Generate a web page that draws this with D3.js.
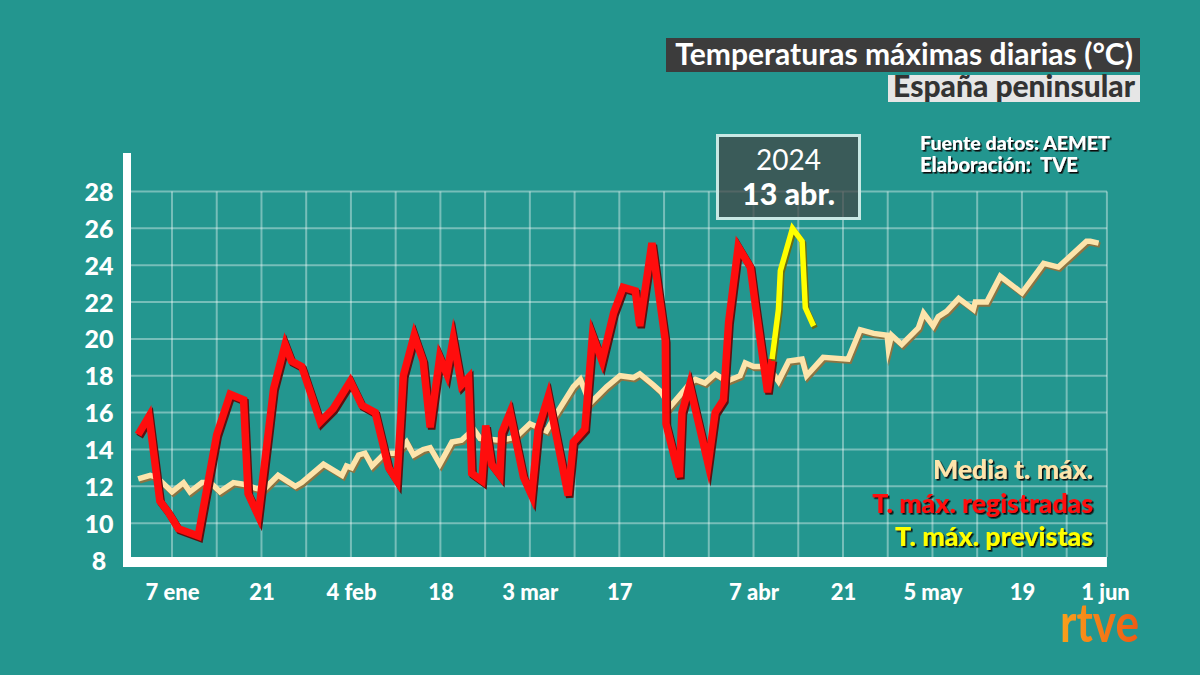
<!DOCTYPE html>
<html>
<head>
<meta charset="utf-8">
<script src="https://cdn.jsdelivr.net/npm/d3@7"></script>
<style>
  html, body { margin: 0; padding: 0; background: #23968f; }
  svg { display: block; font-family: Lato, "Noto Sans", sans-serif; }
</style>
</head>
<body>
<div id="chart"></div>
<script>
var svgWidth = 1200;
var svgHeight = 675;

// días contados desde el 1 de enero de 2024 (0 = 1 ene)
var mediaDias = [0.7, 2.6, 3.6, 6.0, 7.8, 8.8, 10.7, 12.0, 13.5, 15.6, 17.4, 19.0, 20.3, 22.6, 25.3, 26.3, 29.7, 32.6, 33.3, 34.1,
  35.2, 36.2, 37.3, 39.3, 41.2, 42.7, 43.8, 45.3, 46.4, 47.9, 49.8, 51.3, 53.2, 54.2, 57.3, 58.9, 59.9, 62.0, 64.6, 65.9,
  68.8, 69.9, 71.4, 74.0, 76.1, 78.2, 79.2, 81.3, 82.6, 83.9, 87.1, 87.9, 89.4, 91.0, 92.8, 94.9, 95.7, 97.0, 99.3, 100.9,
  102.5, 104.6, 105.3, 107.9, 111.8, 113.7, 115.8, 117.9, 118.1, 118.6, 120.2, 122.8, 123.6, 125.1, 125.9, 127.2, 129.1, 131.4, 131.7, 133.5,
  135.6, 139.0, 142.4, 144.7, 149.1, 149.7, 151.0];
var mediaVals = [12.4, 12.6, 12.5, 11.7, 12.2, 11.7, 12.2, 12.2, 11.7, 12.2, 12.1, 11.9, 11.8, 12.6, 12.0, 12.2, 13.2, 12.6, 13.1, 13.0,
  13.7, 13.8, 13.1, 13.8, 13.8, 14.4, 13.7, 14.0, 14.1, 13.2, 14.4, 14.5, 15.1, 14.6, 14.5, 14.6, 14.7, 15.4, 15.0, 15.8,
  17.4, 17.8, 16.5, 17.4, 18.0, 17.9, 18.1, 17.5, 17.1, 16.3, 17.6, 17.8, 17.6, 18.1, 17.7, 18.0, 18.7, 18.5, 18.5, 17.7,
  18.8, 18.9, 18.0, 19.0, 18.9, 20.5, 20.3, 20.2, 19.5, 20.2, 19.7, 20.6, 21.4, 20.7, 21.2, 21.5, 22.2, 21.6, 22.0, 22.0,
  23.4, 22.5, 24.1, 23.9, 25.3, 25.3, 25.2];

var regDias = [0.7, 2.4, 4.1, 5.4, 7.0, 10.1, 13.0, 15.1, 17.2, 17.9, 19.5, 21.9, 23.7, 24.7, 26.3, 29.2, 31.2, 33.9, 35.7, 37.8,
  39.9, 41.2, 42.2, 43.9, 45.3, 46.4, 47.9, 49.0, 50.0, 51.3, 52.4, 52.9, 54.5, 55.1, 56.0, 57.3, 57.6, 58.9, 61.0, 62.3,
  63.3, 64.9, 68.0, 68.8, 70.6, 71.8, 73.3, 75.1, 76.6, 78.5, 79.2, 81.1, 83.2, 83.3, 85.4, 85.8, 87.0, 89.9, 91.0, 92.3,
  93.1, 94.6, 96.5, 97.3, 99.2, 99.9];
var regVals = [14.8, 15.8, 11.2, 10.6, 9.7, 9.3, 14.8, 17.0, 16.7, 11.6, 10.4, 17.3, 19.7, 18.8, 18.5, 15.5, 16.2, 17.7, 16.4, 16.0,
  13.0, 12.3, 18.0, 20.2, 18.8, 15.2, 19.0, 18.1, 20.0, 17.5, 17.9, 12.7, 12.3, 15.3, 13.2, 12.6, 14.9, 16.0, 12.5, 11.5,
  15.1, 16.9, 11.5, 14.4, 15.1, 20.2, 18.8, 21.4, 22.8, 22.6, 20.7, 25.2, 19.9, 15.4, 12.5, 16.0, 17.5, 13.2, 16.0, 16.7,
  20.9, 25.0, 23.9, 21.8, 17.1, 18.9];

var prevDias = [99.9, 100.9, 101.2, 103.1, 104.6, 105.1, 106.4];
var prevVals = [18.9, 21.6, 23.7, 26.0, 25.3, 21.7, 20.7];

var yTicks = [8, 10, 12, 14, 16, 18, 20, 22, 24, 26, 28];
var xTickDias = [6, 20, 34, 48, 62, 76, 97, 111, 125, 139, 152];
var xTickLabels = ["7 ene", "21", "4 feb", "18", "3 mar", "17", "7 abr", "21", "5 may", "19", "1 jun"];
var gridDias = d3.range(6, 147, 7);   // una línea por semana
var gridFinDia = 152.3;

var svg = d3.select("#chart")
  .append("svg")
  .attr("width", svgWidth)
  .attr("height", svgHeight);

var defs = svg.append("defs");
defs.append("filter").attr("id", "sombra")
  .attr("x", "-5%").attr("y", "-20%").attr("width", "115%").attr("height", "150%")
  .append("feDropShadow")
  .attr("dx", 1.6).attr("dy", 1.6).attr("stdDeviation", 0.3)
  .attr("flood-color", "#111").attr("flood-opacity", 1);

svg.append("rect").attr("width", svgWidth).attr("height", svgHeight).attr("fill", "#23968f");

var xScale = d3.scaleLinear().domain([6, 152]).range([172, 1105]);
var yScale = d3.scaleLinear().domain([8, 28]).range([560, 191.5]);

// Rejilla
var grid = svg.append("g").attr("stroke", "rgba(255,255,255,0.38)").attr("stroke-width", 2);
grid.selectAll("line.h")
  .data(yTicks.slice(1))
  .enter().append("line")
  .attr("x1", 131).attr("x2", xScale(gridFinDia))
  .attr("y1", d => yScale(d)).attr("y2", d => yScale(d));
grid.selectAll("line.v")
  .data(gridDias.concat([gridFinDia]))
  .enter().append("line")
  .attr("x1", d => xScale(d)).attr("x2", d => xScale(d))
  .attr("y1", yScale(28)).attr("y2", 557);

// Ejes blancos gruesos
svg.append("rect").attr("x", 123).attr("y", 153).attr("width", 8).attr("height", 414).attr("fill", "#fff");
svg.append("rect").attr("x", 123).attr("y", 557).attr("width", xScale(gridFinDia) - 123).attr("height", 10).attr("fill", "#fff");

// Etiquetas de los ejes
var leftAxis = d3.axisLeft(yScale).tickValues(yTicks).tickSize(0).tickPadding(0);
var gy = svg.append("g").attr("transform", "translate(99,0)").call(leftAxis);
gy.select(".domain").remove();
gy.selectAll("text")
  .attr("text-anchor", "middle").attr("x", 0).attr("dy", "0.36em")
  .style("font-family", "Lato, sans-serif").style("font-weight", "900")
  .style("font-size", "25px").attr("fill", "#fff");

var bottomAxis = d3.axisBottom(xScale).tickValues(xTickDias).tickSize(0).tickPadding(0)
  .tickFormat((d, i) => xTickLabels[i]);
var gx = svg.append("g").attr("transform", "translate(0,600)").call(bottomAxis);
gx.select(".domain").remove();
gx.selectAll("text")
  .attr("y", 0).attr("dy", 0)
  .style("font-family", "Lato, sans-serif").style("font-weight", "900")
  .style("font-size", "22px").attr("fill", "#fff");

// Líneas
var line = d3.line().x(d => xScale(d[0])).y(d => yScale(d[1]));
var media = mediaDias.map((d, i) => [d, mediaVals[i]]);
var reg = regDias.map((d, i) => [d, regVals[i]]);
var prev = prevDias.map((d, i) => [d, prevVals[i]]);

function drawLine(data, color, shadow, w) {
  svg.append("path").datum(data)
    .attr("d", line).attr("transform", "translate(1.5,2)")
    .attr("fill", "none").attr("stroke", shadow).attr("stroke-width", w)
    .attr("stroke-linejoin", "miter").attr("stroke-miterlimit", 6);
  svg.append("path").datum(data)
    .attr("d", line)
    .attr("fill", "none").attr("stroke", color).attr("stroke-width", w)
    .attr("stroke-linejoin", "miter").attr("stroke-miterlimit", 6);
}
drawLine(media, "#fde4ab", "#8c7442", 5.5);
drawLine(reg, "#ff0d0d", "#5e1010", 7.5);
drawLine(prev, "#ffff00", "#6d6d10", 5.5);

// Ajusta el tamaño de letra para ocupar un ancho dado
function fit(sel, w) {
  var l = sel.node().getComputedTextLength();
  var fs = parseFloat(sel.style("font-size"));
  sel.style("font-size", (fs * w / l) + "px");
  return sel;
}

// Título
svg.append("rect").attr("x", 666).attr("y", 38).attr("width", 474).attr("height", 34).attr("fill", "#3c3c3c");
fit(svg.append("text").attr("x", 1133).attr("y", 65).attr("text-anchor", "end")
  .style("font-size", "28px").style("font-weight", "700").attr("fill", "#fff")
  .text("Temperaturas máximas diarias (°C)"), 458);

svg.append("rect").attr("x", 888).attr("y", 75).attr("width", 252).attr("height", 27).attr("fill", "#e6e6e6");
fit(svg.append("text").attr("x", 1135).attr("y", 96.5).attr("text-anchor", "end")
  .style("font-size", "26px").style("font-weight", "900").attr("fill", "#333")
  .text("España peninsular"), 242);

// Textos con sombra
function shadowText(x, y, txt, color, size, w, anchor) {
  var t = svg.append("text").attr("x", x).attr("y", y).attr("text-anchor", anchor)
    .style("font-size", size + "px").style("font-weight", "900").style("white-space", "pre")
    .attr("fill", color).attr("filter", "url(#sombra)").text(txt);
  if (w) fit(t, w);
}
shadowText(920, 150, "Fuente datos: AEMET", "#fff", 17, 190, "start");
shadowText(920, 171.5, "Elaboración:  TVE", "#fff", 17, 158, "start");

// Recuadro de fecha
svg.append("rect").attr("x", 717.5).attr("y", 135.5).attr("width", 142).attr("height", 83)
  .attr("fill", "#444").attr("fill-opacity", 0.72)
  .attr("stroke", "#c8e8e4").attr("stroke-width", 3);
svg.append("text").attr("x", 788.5).attr("y", 170).attr("text-anchor", "middle")
  .style("font-size", "28px").style("font-weight", "400").attr("fill", "#fff").text("2024");
fit(svg.append("text").attr("x", 788.5).attr("y", 205).attr("text-anchor", "middle")
  .style("font-size", "33px").style("font-weight", "900").attr("fill", "#fff").text("13 abr."), 93);

// Leyenda
shadowText(1093, 479, "Media t. máx.", "#fde4ab", 22, 160, "end");
shadowText(1093, 513, "T. máx. registradas", "#ff1010", 22, 221, "end");
shadowText(1093, 546, "T. máx. previstas", "#ffff00", 22, 198, "end");

// Logo rtve
var grad = defs.append("linearGradient").attr("id", "rtvegrad")
  .attr("x1", "0%").attr("x2", "100%").attr("y1", "0%").attr("y2", "0%");
grad.append("stop").attr("offset", "0%").attr("stop-color", "#f9a11b");
grad.append("stop").attr("offset", "100%").attr("stop-color", "#ef5a14");
svg.append("text").attr("x", 1060).attr("y", 642)
  .style("font-size", "54px").style("font-weight", "700")
  .attr("textLength", 79).attr("lengthAdjust", "spacingAndGlyphs")
  .attr("fill", "url(#rtvegrad)").text("rtve");
</script>
</body>
</html>
